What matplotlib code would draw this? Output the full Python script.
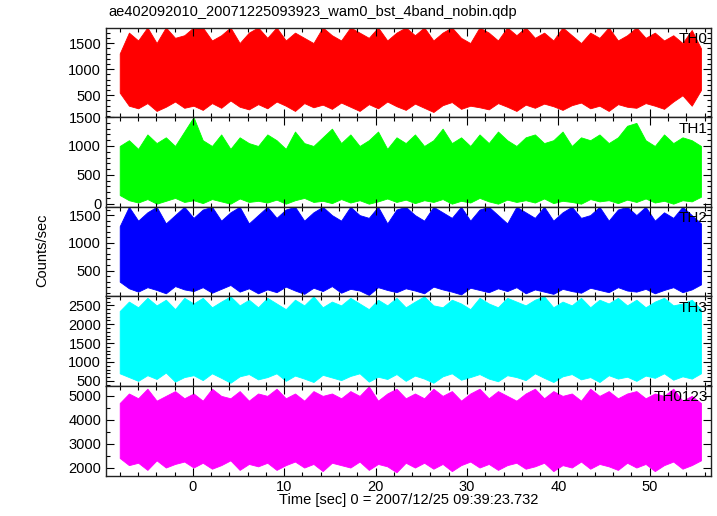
import numpy as np
import matplotlib
matplotlib.use("Agg")
import matplotlib.pyplot as plt
from matplotlib.ticker import MultipleLocator

plt.rcParams['font.family'] = ['Liberation Sans', 'DejaVu Sans']

title = "ae402092010_20071225093923_wam0_bst_4band_nobin.qdp"
xlabel = "Time [sec] 0 = 2007/12/25 09:39:23.732"
ylabel = "Counts/sec"

# time grid (sec) of the envelope samples
t_start, t_end, n_samp = -8.0, 55.6, 64
times = np.linspace(t_start, t_end, n_samp)

band_names = ["TH0", "TH1", "TH2", "TH3", "TH0123"]
band_colors = ["#ff0000", "#00ff00", "#0000ff", "#00ffff", "#ff00ff"]

# upper / lower envelope of each light curve (counts/sec)
th0_hi = [1300, 1700, 1550, 1800, 1500, 1800, 1600, 1650,
          1800, 1800, 1550, 1650, 1800, 1500, 1700, 1800,
          1600, 1800, 1550, 1700, 1600, 1500, 1800, 1650,
          1550, 1800, 1700, 1600, 1800, 1550, 1700, 1800,
          1650, 1800, 1550, 1700, 1800, 1600, 1500, 1800,
          1700, 1550, 1800, 1650, 1800, 1600, 1700, 1550,
          1800, 1650, 1500, 1700, 1600, 1800, 1550, 1650,
          1800, 1600, 1700, 1550, 1650, 1500, 1750, 1400]
th0_lo = [550, 300, 250, 350, 200, 280, 380, 260,
          300, 220, 350, 260, 400, 280, 230, 330,
          250, 380, 300, 200, 350, 270, 320, 240,
          360, 280, 200, 330, 250, 380, 290, 220,
          340, 260, 180, 310, 370, 240, 300, 270,
          230, 350, 280, 200, 320, 260, 340, 290,
          220, 310, 360, 250, 300, 200, 330, 280,
          260, 350, 300, 240, 380, 500, 300, 600]

th1_hi = [1000, 1100, 950, 1200, 1050, 1150, 1000, 1250,
          1500, 1100, 1000, 1200, 950, 1150, 1050, 1000,
          1200, 1100, 950, 1250, 1050, 1000, 1150, 1300,
          1050, 1200, 1000, 1100, 1250, 950, 1150, 1050,
          1200, 1000, 1100, 1300, 1050, 1150, 1000, 1200,
          1050, 1250, 1100, 1000, 1150, 1200, 1050, 1100,
          1250, 1000, 1150, 1100, 1200, 1050, 1150, 1350,
          1400, 1100, 1000, 1200, 1050, 1150, 1100, 1000]
th1_lo = [150, 60, 20, 80, 0, 50, 100, 30,
          60, 10, 80, 40, 0, 90, 30, 50,
          20, 70, 0, 60, 100, 30, 50, 10,
          80, 20, 60, 0, 40, 90, 30, 70,
          10, 60, 30, 80, 0, 50, 20, 100,
          40, 0, 70, 30, 60, 20, 90, 10,
          50, 30, 0, 80, 40, 60, 10, 70,
          30, 90, 20, 50, 0, 60, 40, 120]

th2_hi = [1300, 1650, 1400, 1550, 1650, 1350, 1500, 1650,
          1450, 1600, 1650, 1400, 1550, 1650, 1350, 1500,
          1650, 1450, 1600, 1650, 1400, 1550, 1650, 1500,
          1400, 1650, 1500, 1450, 1650, 1350, 1600, 1650,
          1500, 1400, 1650, 1550, 1450, 1650, 1400, 1600,
          1650, 1500, 1350, 1650, 1550, 1450, 1650, 1400,
          1550, 1650, 1450, 1500, 1650, 1400, 1600, 1650,
          1500, 1650, 1400, 1550, 1450, 1650, 1500, 1350]
th2_lo = [300, 180, 120, 200, 150, 90, 220, 160,
          130, 200, 100, 170, 240, 120, 180, 90,
          160, 110, 210, 140, 80, 190, 130, 220,
          100, 170, 140, 60, 200, 150, 110, 180,
          140, 90, 210, 160, 120, 70, 190, 150,
          110, 180, 130, 200, 90, 160, 120, 80,
          170, 130, 100, 190, 150, 110, 200, 140,
          120, 170, 90, 150, 200, 110, 160, 250]

th3_hi = [2350, 2600, 2450, 2700, 2500, 2650, 2400, 2700,
          2550, 2700, 2450, 2600, 2740, 2500, 2650, 2450,
          2700, 2550, 2400, 2650, 2500, 2740, 2450, 2600,
          2500, 2700, 2550, 2400, 2650, 2500, 2700, 2450,
          2600, 2740, 2500, 2450, 2650, 2550, 2400, 2700,
          2550, 2450, 2700, 2600, 2500, 2650, 2740, 2450,
          2600, 2500, 2700, 2450, 2650, 2550, 2700, 2500,
          2650, 2450, 2600, 2700, 2500, 2550, 2650, 2400]
th3_lo = [700, 600, 500, 650, 550, 720, 480, 600,
          650, 520, 700, 580, 450, 620, 680, 540,
          600, 700, 500, 640, 560, 470, 660, 590,
          520, 630, 700, 480, 610, 550, 680, 500,
          640, 560, 450, 620, 700, 530, 600, 680,
          560, 490, 650, 600, 520, 700, 580, 470,
          620, 680, 540, 600, 470, 650, 560, 610,
          500, 640, 580, 700, 530, 620, 560, 700]

th0123_hi = [4700, 5100, 4900, 5300, 4800, 5000, 5200, 4900,
             5100, 4800, 5300, 5000, 4900, 5200, 4800, 5100,
             5000, 5300, 4900, 5100, 4800, 5200, 5000, 5100,
             4900, 5200, 5000, 5400, 4800, 5100, 5300, 4900,
             5100, 4900, 5300, 5000, 5200, 4800, 5100, 5300,
             4900, 5200, 5000, 4800, 5100, 5300, 4900, 5200,
             5000, 5100, 4800, 5300, 5000, 5200, 4900, 5100,
             5200, 4900, 5100, 5000, 5300, 4800, 5000, 4700]
th0123_lo = [2400, 2100, 2200, 1900, 2300, 2000, 2150, 2250,
             2000, 2200, 1950, 2100, 2300, 1900, 2150, 2050,
             2200, 1900, 2100, 2250, 2000, 2150, 1850, 2200,
             2100, 2000, 2250, 1900, 2150, 2050, 1800, 2200,
             2000, 2200, 1950, 2150, 1850, 2100, 2250, 2000,
             2150, 1900, 2100, 2200, 1950, 2050, 2200, 1850,
             2100, 2000, 2250, 1950, 2150, 2050, 1900, 2200,
             2000, 2150, 1850, 2100, 2250, 1950, 2100, 2300]

highs = [th0_hi, th1_hi, th2_hi, th3_hi, th0123_hi]
lows = [th0_lo, th1_lo, th2_lo, th3_lo, th0123_lo]

ylims = [(82, 1798), (-52, 1500), (36, 1651), (367, 2740), (1667, 5417)]
ymajor = [500, 500, 500, 500, 1000]
yminor = [100, 100, 100, 100, 500]
xlim = (-9.5, 56.7)

fig = plt.figure(figsize=(7.17, 5.16), dpi=100)
left, right = 106 / 717, 711 / 717
top, bottom = 1 - 27.5 / 516, 1 - 475.5 / 516
h = (top - bottom) / 5

for i in range(5):
    ax = fig.add_axes([left, top - (i + 1) * h, right - left, h])
    hi = np.array(highs[i], dtype=float)
    lo = np.array(lows[i], dtype=float)
    ax.fill_between(times, lo, hi, color=band_colors[i], lw=0.6,
                    edgecolor=band_colors[i])
    ax.set_xlim(*xlim)
    ax.set_ylim(*ylims[i])
    ax.xaxis.set_major_locator(MultipleLocator(10))
    ax.xaxis.set_minor_locator(MultipleLocator(2))
    ax.yaxis.set_major_locator(MultipleLocator(ymajor[i]))
    ax.yaxis.set_minor_locator(MultipleLocator(yminor[i]))
    ax.tick_params(which='both', direction='in', top=True, right=True,
                   labelsize=10.5, colors='black', width=0.8)
    ax.tick_params(which='major', length=6)
    ax.tick_params(which='minor', length=3)
    for s in ax.spines.values():
        s.set_linewidth(1.0)
        s.set_color('#222222')
    if i < 4:
        ax.tick_params(labelbottom=False)
    ax.text(0.995, 0.95, band_names[i], transform=ax.transAxes,
            ha='right', va='top', fontsize=11)

fig.text(108 / 717, 1 - 12 / 516, title, ha='left', va='center', fontsize=10.5)
fig.text((left + right) / 2, 1 - 500 / 516, xlabel, ha='center', va='center',
         fontsize=10.5)
fig.text(42 / 717, 1 - 250 / 516, ylabel, ha='center', va='center',
         rotation=90, fontsize=10.5)

fig.savefig("out.png", dpi=100)
